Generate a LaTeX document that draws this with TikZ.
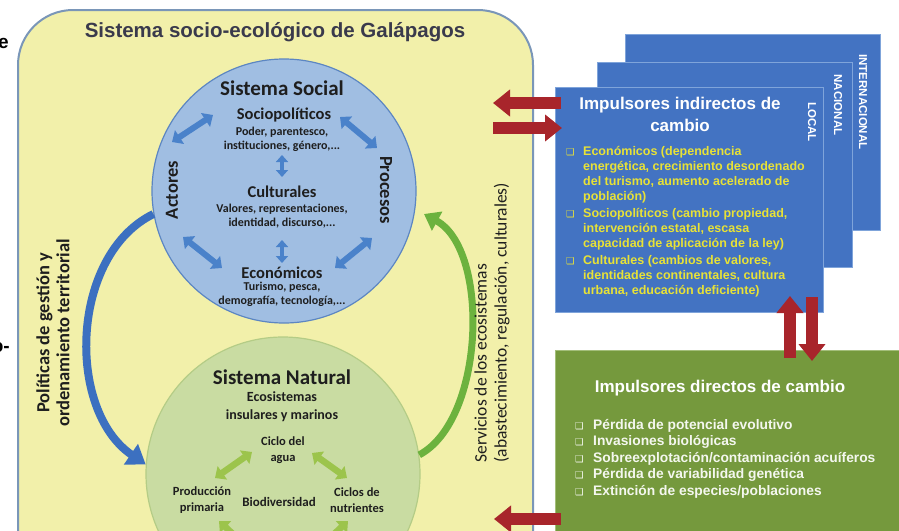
\documentclass[tikz,border=0pt]{standalone}
\usepackage{fontspec}
\setmainfont{Carlito}
\newfontfamily\arialf{Liberation Sans}
\newfontfamily\symf{DejaVu Sans}
\usetikzlibrary{arrows.meta}

\newcommand\fsz[2]{\fontsize{#1}{#2}\selectfont}
% bullet boxes for the two lists of drivers
\newcommand\ybul{\makebox[17pt][l]{\symf\fsz{9.5}{9.5}❑}}
\newcommand\ycont{\hspace*{17pt}}
\newcommand\wbul{\makebox[18pt][l]{\symf\fsz{9.5}{9.5}❑}}

\definecolor{frameyel}{HTML}{F2F0AA}
\definecolor{frameedge}{HTML}{7A96B8}
\definecolor{socfill}{HTML}{A0BEE2}
\definecolor{socedge}{HTML}{5C86C2}
\definecolor{natfill}{HTML}{C9DCA2}
\definecolor{natedge}{HTML}{B4CC86}
\definecolor{socarrow}{HTML}{4A82CA}
\definecolor{natarrow}{HTML}{9CC44C}
\definecolor{polblue}{HTML}{3C70C0}
\definecolor{servgreen}{HTML}{6CB23E}
\definecolor{drvred}{HTML}{A8252B}
\definecolor{indblue}{HTML}{4373C2}
\definecolor{indedge}{HTML}{7FA4DA}
\definecolor{dirgreen}{HTML}{75993D}
\definecolor{diredge}{HTML}{A3BE7A}
\definecolor{bullyel}{HTML}{E8E236}
\definecolor{titlegray}{HTML}{3A3A4C}
\definecolor{inktext}{HTML}{1E1E1E}

\begin{document}
\begin{tikzpicture}[x=1pt,y=-1pt,
  frame/.style={fill=frameyel, draw=frameedge, line width=2pt, rounded corners=55pt},
  soccircle/.style={circle, inner sep=0, fill=socfill, draw=socedge, line width=1.2pt},
  natcircle/.style={circle, inner sep=0, fill=natfill, draw=natedge, line width=1.2pt},
  soctitle/.style={font=\bfseries\fsz{21}{24}, text=inktext},
  sochead/.style={font=\bfseries\fsz{16.5}{19}, text=inktext},
  socbody/.style={font=\bfseries\fsz{12}{14}, text=inktext, align=center},
  sidelabel/.style={font=\bfseries\fsz{18.5}{20}, text=inktext},
  natsubtxt/.style={font=\bfseries\fsz{14}{18}, text=inktext, align=center},
  natitem/.style={font=\bfseries\fsz{12.5}{16}, text=inktext, align=center},
  socdbl/.style={draw=socarrow, line width=6pt,
     {Triangle[width=16pt,length=9pt]}-{Triangle[width=16pt,length=9pt]}},
  socvert/.style={draw=socarrow, line width=4.5pt,
     {Triangle[width=12pt,length=7pt]}-{Triangle[width=12pt,length=7pt]}},
  natdbl/.style={draw=natarrow, line width=6.5pt,
     {Triangle[width=16pt,length=9pt]}-{Triangle[width=16pt,length=9pt]}},
  polarrow/.style={draw=polblue, line width=8pt, -{Triangle[width=24pt,length=18pt]}},
  servarrow/.style={draw=servgreen, line width=7pt, -{Triangle[width=21pt,length=15pt]}},
  redarr/.style={draw=drvred, line width=12pt, -{Triangle[width=26pt,length=17pt]}},
  indbox/.style={fill=indblue, draw=indedge, line width=1pt, inner sep=0},
  dirbox/.style={fill=dirgreen, draw=diredge, line width=1pt, inner sep=0},
  lvl/.style={font=\arialf\bfseries\fsz{11.5}{13}, text=white},
  boxtitle/.style={font=\arialf\bfseries\fsz{17}{22}, text=white, align=center},
  indlist/.style={anchor=north west, inner sep=0, align=left,
     font=\arialf\bfseries\fsz{12.5}{15}, text=bullyel},
  dirlist/.style={anchor=north west, inner sep=0, align=left,
     font=\arialf\bfseries\fsz{13.8}{16.5}, text=white!92!dirgreen},
  frag/.style={font=\arialf\bfseries\fsz{19}{22}, text=black, inner sep=0}
]
\useasboundingbox (0,0) rectangle (899,530);
\clip (0,0) rectangle (899,530);

% words of the surrounding page, cut by the left edge
\node[frag, anchor=base east] (frage) at (9,48) {e};
\node[frag, anchor=base east] (frago) at (10,352) {o-};

% the socio-ecological system
\path[frame] (18,10) rectangle (533,620);
\node[font=\arialf\bfseries\fsz{20.5}{24}, text=titlegray] (title) at (275,32)
  {Sistema socio-ecológico de Galápagos};

% social system
\node[soccircle, minimum size=264pt] (social) at (284,191) {};
\node[soctitle] (soctit) at (282,88) {Sistema Social};
\node[sochead] (sociopol) at (284,115) {Sociopolíticos};
\node[socbody] (sociopoltxt) at (282,139) {Poder, parentesco,\\instituciones, género,...};
\node[sochead] (cult) at (282,192) {Culturales};
\node[socbody] (culttxt) at (282,216) {Valores, representaciones,\\identidad, discurso,...};
\node[sochead] (econ) at (282,273) {Económicos};
\node[socbody] (econtxt) at (282,294) {Turismo, pesca,\\demografía, tecnología,...};
\node[sidelabel, rotate=90] (actores) at (172,190) {Actores};
\node[sidelabel, rotate=-90] (procesos) at (386,190) {Procesos};

\coordinate (sa1) at (172,142); \coordinate (sa2) at (213,115);
\coordinate (sb1) at (340,117); \coordinate (sb2) at (377,148);
\coordinate (sc1) at (183,237); \coordinate (sc2) at (222,268);
\coordinate (sd1) at (335,268); \coordinate (sd2) at (372,238);
\draw[socdbl] (sa1) -- (sa2);
\draw[socdbl] (sb1) -- (sb2);
\draw[socdbl] (sc1) -- (sc2);
\draw[socdbl] (sd1) -- (sd2);
\coordinate (sv1) at (282,155); \coordinate (sv2) at (282,177);
\coordinate (sv3) at (282,240); \coordinate (sv4) at (282,263);
\draw[socvert] (sv1) -- (sv2);
\draw[socvert] (sv3) -- (sv4);

% natural system
\node[natcircle, minimum size=274pt] (natural) at (283,474) {};
\node[soctitle] (nattit) at (282,377) {Sistema Natural};
\node[natsubtxt] (natsub) at (282,407) {Ecosistemas\\insulares y marinos};
\node[natitem] (agua) at (283,450) {Ciclo del\\agua};
\node[natitem] (prod) at (202,500) {Producción\\primaria};
\node[natitem, font=\bfseries\fsz{13}{16}] (biod) at (279,502) {Biodiversidad};
\node[natitem] (nutr) at (357,500) {Ciclos de\\nutrientes};
\coordinate (na1) at (215,478); \coordinate (na2) at (252,452);
\coordinate (nb1) at (312,453); \coordinate (nb2) at (347,478);
\coordinate (nc1) at (219,521); \coordinate (nc2) at (252,552);
\coordinate (nd1) at (348,521); \coordinate (nd2) at (315,552);
\draw[natdbl] (na1) -- (na2);
\draw[natdbl] (nb1) -- (nb2);
\draw[natdbl] (nc1) -- (nc2);
\draw[natdbl] (nd1) -- (nd2);

% policies and ecosystem services
\draw[polarrow] (social.190) .. controls (70,255) and (66,410) .. (natural.176);
\node[sidelabel, rotate=90, align=center] (politicas) at (53,333)
  {Políticas de gestión y\\ordenamiento territorial};
\coordinate (stip) at (424,214);
\draw[servarrow] (natural.8) .. controls (485,420) and (490,250) .. (stip);
\node[font=\fsz{17.5}{20}, text=inktext, rotate=90, align=left, anchor=west] (servicios) at (492,466)
  {Servicios de los ecosistemas\\(abastecimiento, regulación, culturales)};

% indirect drivers, at three scales
\node[indbox, anchor=north west, minimum width=255pt, minimum height=196pt] (intl) at (625,34) {};
\node[indbox, anchor=north west, minimum width=255pt, minimum height=205pt] (nacl) at (597,62) {};
\node[indbox, anchor=north west, minimum width=268pt, minimum height=225pt] (locl) at (555,87) {};
\node[lvl, rotate=-90] (lloc) at (812,122) {LOCAL};
\node[lvl, rotate=-90] (lnac) at (838,105) {NACIONAL};
\node[lvl, rotate=-90] (lint) at (863,102) {INTERNACIONAL};
\node[boxtitle] (indtit) at (680,114) {Impulsores indirectos de\\cambio};
\node[indlist] (indeco) at (566,146)
  {\ybul Económicos (dependencia\\ \ycont energética, crecimiento desordenado\\
   \ycont del turismo, aumento acelerado de\\ \ycont población)};
\node[indlist] (indsoc) at (566,208)
  {\ybul Sociopolíticos (cambio propiedad,\\ \ycont intervención estatal, escasa\\
   \ycont capacidad de aplicación de la ley)};
\node[indlist] (indcul) at (566,255)
  {\ybul Culturales (cambios de valores,\\ \ycont identidades continentales, cultura\\
   \ycont urbana, educación deficiente)};

% direct drivers
\node[dirbox, anchor=north west, minimum width=360pt, minimum height=220pt] (direct) at (555,350) {};
\node[boxtitle] (dirtit) at (720,388) {Impulsores directos de cambio};
\node[dirlist] (dirl) at (575,419)
  {\wbul Pérdida de potencial evolutivo\\
   \wbul Invasiones biológicas\\
   \wbul Sobreexplotación/contaminación acuíferos\\
   \wbul Pérdida de variabilidad genética\\
   \wbul Extinción de especies/poblaciones};

% exchanges between the system and its drivers
\coordinate (ra1) at (561,103); \coordinate (rb1) at (493,103);
\coordinate (ra2) at (493,128); \coordinate (rb2) at (562,128);
\coordinate (rv1) at (790,358); \coordinate (rv2) at (790,296);
\coordinate (rw1) at (812,297); \coordinate (rw2) at (812,361);
\coordinate (rc1) at (561,519); \coordinate (rc2) at (494,519);
\draw[redarr] (ra1) -- (rb1);
\draw[redarr] (ra2) -- (rb2);
\draw[redarr] (rv1) -- (rv2);
\draw[redarr] (rw1) -- (rw2);
\draw[redarr] (rc1) -- (rc2);
\end{tikzpicture}
\end{document}
